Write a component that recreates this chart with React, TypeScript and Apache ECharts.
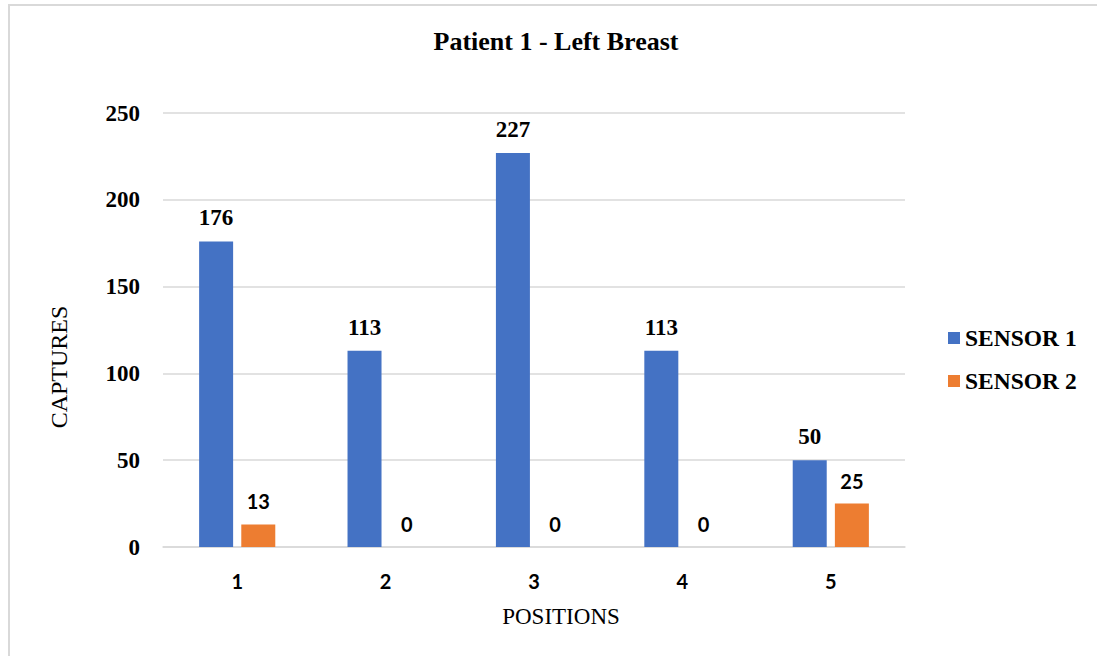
import React, { useEffect, useRef } from "react";
import * as echarts from "echarts";

const categories = ["1", "2", "3", "4", "5"];
const sensor1 = [176, 113, 227, 113, 50];
const sensor2 = [13, 0, 0, 0, 25];
const seriesNames = ["SENSOR 1", "SENSOR 2"];
const titleText = "Patient 1 - Left Breast";
const yName = "CAPTURES";
const xName = "POSITIONS";

const SERIF = "'Liberation Serif', 'Times New Roman', serif";
const SANS = "Lato, 'Open Sans', sans-serif";

export default function App() {
  const ref = useRef<HTMLDivElement>(null);
  useEffect(() => {
    if (!ref.current) return;
    const chart = echarts.init(ref.current, null, { renderer: "svg" });
    chart.setOption({
      animation: false,
      backgroundColor: "#fff",
      title: {
        text: titleText,
        left: 551,
        top: 23,
        textAlign: "center",
        textStyle: { fontFamily: SERIF, fontWeight: "bold", fontSize: 26, color: "#000" },
      },
      legend: {
        orient: "vertical",
        left: 943,
        top: 321,
        itemWidth: 12,
        itemHeight: 12,
        itemGap: 19,
        icon: "rect",
        textStyle: { fontFamily: SERIF, fontWeight: "bold", fontSize: 23.5, color: "#000", lineHeight: 24 },
        data: seriesNames,
      },
      graphic: [
        {
          type: "rect",
          shape: { x: 9, y: 5, width: 1100, height: 660 },
          style: { fill: "none", stroke: "#d9d9d9", lineWidth: 2 },
          silent: true,
        },
      ],
      grid: { left: 163, right: 192, top: 113, bottom: 109, containLabel: false },
      xAxis: {
        type: "category",
        data: categories,
        name: xName,
        nameLocation: "middle",
        nameGap: 58,
        nameTextStyle: { fontFamily: SERIF, fontSize: 23, color: "#000", padding: [0, 0, 0, 54] },
        axisLine: { show: true, lineStyle: { color: "#d9d9d9", width: 1.5 } },
        axisTick: { show: false },
        axisLabel: { fontFamily: SANS, fontWeight: "bold", fontSize: 20, color: "#000", margin: 24 },
      },
      yAxis: {
        type: "value",
        min: 0,
        max: 250,
        interval: 50,
        name: yName,
        nameLocation: "middle",
        nameGap: 92,
        nameTextStyle: { fontFamily: SERIF, fontSize: 24, color: "#000", padding: [0, 74, 0, 0] },
        axisLine: { show: false },
        axisTick: { show: false },
        axisLabel: { fontFamily: SERIF, fontWeight: "bold", fontSize: 23, color: "#000", margin: 23 },
        splitLine: { lineStyle: { color: "#d9d9d9", width: 1.5 } },
      },
      series: [
        {
          name: seriesNames[0],
          type: "bar",
          data: sensor1,
          barWidth: 34,
          barGap: "24%",
          itemStyle: { color: "#4472c4" },
          label: {
            show: true,
            position: "top",
            distance: 12,
            fontFamily: SERIF,
            fontWeight: "bold",
            fontSize: 23,
            color: "#000",
          },
        },
        {
          name: seriesNames[1],
          type: "bar",
          data: sensor2,
          barWidth: 34,
          barGap: "24%",
          itemStyle: { color: "#ed7d31" },
          label: {
            show: true,
            position: "top",
            distance: 13,
            fontFamily: SANS,
            fontWeight: "bold",
            fontSize: 20,
            color: "#000",
          },
        },
      ],
    });
    return () => chart.dispose();
  }, []);
  return (
    <div
      ref={ref}
      style={{ position: "fixed", left: 0, top: 0, width: 1097, height: 656 }}
    />
  );
}
